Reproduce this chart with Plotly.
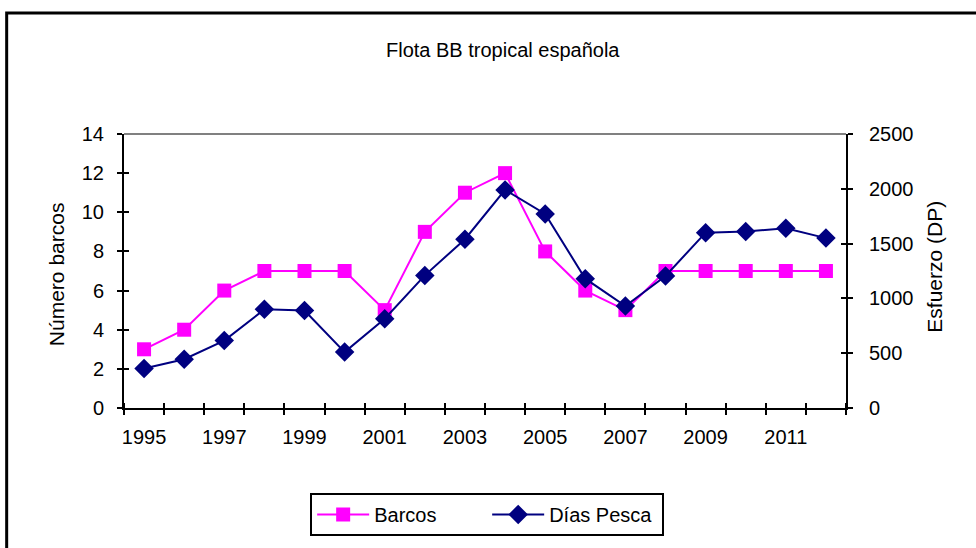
import plotly.graph_objects as go

years = list(range(1995, 2013))
barcos = [3, 4, 6, 7, 7, 7, 5, 9, 11, 12, 8, 6, 5, 7, 7, 7, 7, 7]
dias_pesca = [360, 445, 615, 900, 890, 510, 815, 1210, 1540, 1990,
              1770, 1180, 930, 1205, 1600, 1610, 1640, 1550]
x_labels = [str(y) for y in range(1995, 2013, 2)]
left_ticks = list(range(0, 15, 2))
right_ticks = list(range(0, 2501, 500))

FONT = "Liberation Sans, Arial, sans-serif"
MAG = "#FF00FF"
NAVY = "#000080"

fig = go.Figure()
fig.add_trace(go.Scatter(x=years, y=barcos, name="Barcos", mode="lines+markers",
                         line=dict(color=MAG, width=2),
                         marker=dict(symbol="square", size=14, color=MAG),
                         xaxis="x", yaxis="y"))
fig.add_trace(go.Scatter(x=years, y=dias_pesca, name="Días Pesca", mode="lines+markers",
                         line=dict(color=NAVY, width=2),
                         marker=dict(symbol="diamond", size=15, color=NAVY),
                         xaxis="x", yaxis="y2"))
# invisible traces to activate overlay axes used for the inner half of the cross ticks
for xa, ya in [("x2", "y3"), ("x2", "y4")]:
    fig.add_trace(go.Scatter(x=[None], y=[None], xaxis=xa, yaxis=ya,
                             showlegend=False, hoverinfo="skip"))

xr = [1994.5, 2012.5]
tickfont = dict(family=FONT, size=20, color="black")

fig.update_layout(
    width=976, height=548,
    margin=dict(l=124, r=130, t=134, b=140),
    paper_bgcolor="white", plot_bgcolor="white",
    font=dict(family=FONT, color="black"),
    showlegend=True,
    legend=dict(orientation="h", x=0.503, xanchor="center", y=-0.31, yanchor="top",
                bordercolor="black", borderwidth=2, font=dict(family=FONT, size=20),
                bgcolor="white", itemwidth=52, entrywidth=108, entrywidthmode="pixels",
                tracegroupgap=0),
    xaxis=dict(range=xr, tickmode="array", tickvals=list(range(1995, 2013, 2)),
               ticktext=x_labels, ticks="", showgrid=False, zeroline=False,
               showline=True, linecolor="black", linewidth=2,
               tickfont=tickfont, ticklabelstandoff=10,
               minor=dict(tick0=1994.5, dtick=1, ticks="outside", ticklen=5,
                          tickwidth=2, tickcolor="black", showgrid=False)),
    xaxis2=dict(range=xr, overlaying="x", anchor="y3", side="bottom",
                showticklabels=False, showgrid=False, zeroline=False, ticks="",
                tickmode="array", tickvals=[],
                minor=dict(tick0=1994.5, dtick=1, ticks="inside", ticklen=5,
                           tickwidth=2, tickcolor="black", showgrid=False)),
    yaxis=dict(range=[0, 14], tickmode="array", tickvals=left_ticks,
               ticks="outside", ticklen=5, tickwidth=2, tickcolor="black",
               showline=True, linecolor="black", linewidth=2, showgrid=False,
               zeroline=False, tickfont=tickfont, ticklabelstandoff=9),
    yaxis2=dict(range=[0, 2500], overlaying="y", side="right", anchor="x",
                tickmode="array", tickvals=right_ticks,
                ticks="outside", ticklen=5, tickwidth=2, tickcolor="black",
                showline=True, linecolor="black", linewidth=2, showgrid=False,
                zeroline=False, tickfont=tickfont, ticklabelstandoff=12),
    yaxis3=dict(range=[0, 14], overlaying="y", side="left", anchor="x2",
                tickmode="array", tickvals=left_ticks, ticks="inside", ticklen=5,
                tickwidth=2, tickcolor="black", showticklabels=False,
                showgrid=False, zeroline=False),
    yaxis4=dict(range=[0, 2500], overlaying="y", side="right", anchor="x2",
                tickmode="array", tickvals=right_ticks, ticks="inside", ticklen=5,
                tickwidth=2, tickcolor="black", showticklabels=False,
                showgrid=False, zeroline=False),
)

# grey top line of plot area
fig.add_shape(type="line", xref="paper", yref="paper", x0=0, x1=1, y0=1, y1=1,
              line=dict(color="#808080", width=2))
# outer chart border
fig.add_shape(type="rect", xref="paper", yref="paper",
              x0=-0.1625, x1=1.2, y0=-0.53, y1=1.442,
              line=dict(color="black", width=3), layer="below")

fig.add_annotation(text="Flota BB tropical española", xref="paper", yref="paper",
                   x=0.525, y=1.305, xanchor="center", yanchor="middle", showarrow=False,
                   font=dict(family=FONT, size=20, color="black"))
fig.add_annotation(text="Número barcos", xref="paper", yref="paper",
                   x=-0.094, y=0.489, textangle=-90, xanchor="center", yanchor="middle",
                   showarrow=False, font=dict(family=FONT, size=21, color="black"))
fig.add_annotation(text="Esfuerzo (DP)", xref="paper", yref="paper",
                   x=1.123, y=0.515, textangle=-90, xanchor="center", yanchor="middle",
                   showarrow=False, font=dict(family=FONT, size=21, color="black"))

fig.write_html("out.html", config={"displayModeBar": False},
               post_script="document.body.style.margin='0';")
